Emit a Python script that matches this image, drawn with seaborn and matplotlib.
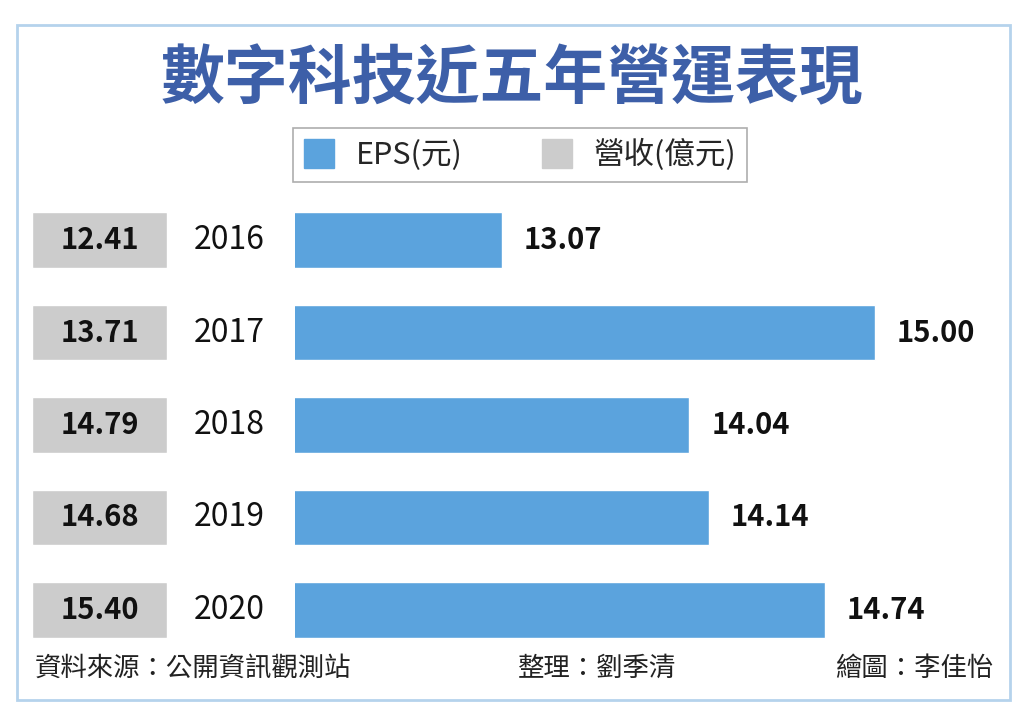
import matplotlib.pyplot as plt
import matplotlib.patches as mpatches
import seaborn as sns
import pandas as pd

years = ['2016', '2017', '2018', '2019', '2020']
eps = [13.07, 15.00, 14.04, 14.14, 14.74]
revenue = [12.41, 13.71, 14.79, 14.68, 15.40]

title = '數字科技近五年營運表現'
legend_labels = ['EPS(元)', '營收(億元)']
footer = ['資料來源：公開資訊觀測站', '整理：劉季清', '繪圖：李佳怡']

blue = '#5ba3dd'
gray = '#cccccc'

sns.set_style('white')
plt.rcParams['font.family'] = ['Noto Sans CJK TC', 'DejaVu Sans']

df = pd.DataFrame({'year': years, 'eps': eps, 'revenue': revenue})

W, H = 1024, 720
fig = plt.figure(figsize=(W / 100, H / 100), dpi=100)

row_h = 92.5
top = 240 - row_h / 2
bottom_px = top + 5 * row_h


def axes_px(x0, x1):
    return fig.add_axes([x0 / W, 1 - bottom_px / H, (x1 - x0) / W, (bottom_px - top) / H])


# main EPS bars
ax = axes_px(295, 1000)
sns.barplot(data=df, x='eps', y='year', color=blue, width=0.6, ax=ax, saturation=1)
ax.set_xlim(12.0, 12.0 + 705 / 193.3)
ax.set_ylim(4.5, -0.5)
ax.bar_label(ax.containers[0], fmt='%.2f', padding=16, fontsize=21,
             fontweight='bold', color='#111111')
ax.axis('off')

# revenue label cells + year labels
axl = axes_px(32, 167)
axl.barh(range(len(years)), [1] * len(years), height=0.6, color=gray)
axl.set_xlim(0, 1)
axl.set_ylim(4.5, -0.5)
for i, (yr, rv) in enumerate(zip(years, revenue)):
    axl.text(0.5, i, f'{rv:.2f}', ha='center', va='center', fontsize=21,
             fontweight='bold', color='#111111')
    axl.text(1.46, i, yr, ha='center', va='center', fontsize=23, color='#111111')
axl.axis('off')

# title
fig.text(512 / W, 1 - 80 / H, title, ha='center', va='center', fontsize=46,
         fontweight='bold', color='#3d5fa8')

# legend
handles = [mpatches.Patch(color=blue), mpatches.Patch(color=gray)]
leg = fig.legend(handles, legend_labels, loc='center', bbox_to_anchor=(520 / W, 1 - 155 / H),
                 ncol=2, fontsize=22, frameon=True, fancybox=False, edgecolor='#999999',
                 handlelength=1.0, handleheight=1.1, columnspacing=2.6, handletextpad=0.7,
                 borderpad=0.35, borderaxespad=0)
leg.get_frame().set_linewidth(1.2)

# footer
fy = 1 - 668 / H
fig.text(35 / W, fy, footer[0], ha='left', va='center', fontsize=19, color='#222222')
fig.text(597 / W, fy, footer[1], ha='center', va='center', fontsize=19, color='#222222')
fig.text(993 / W, fy, footer[2], ha='right', va='center', fontsize=19, color='#222222')

# outer border
fig.patches.append(mpatches.Rectangle((17 / W, 1 - 700 / H), (1010 - 17) / W, (700 - 25) / H,
                                      transform=fig.transFigure, fill=False,
                                      edgecolor='#b5d3ec', linewidth=2))

fig.savefig('out.png', dpi=100, facecolor='white')
